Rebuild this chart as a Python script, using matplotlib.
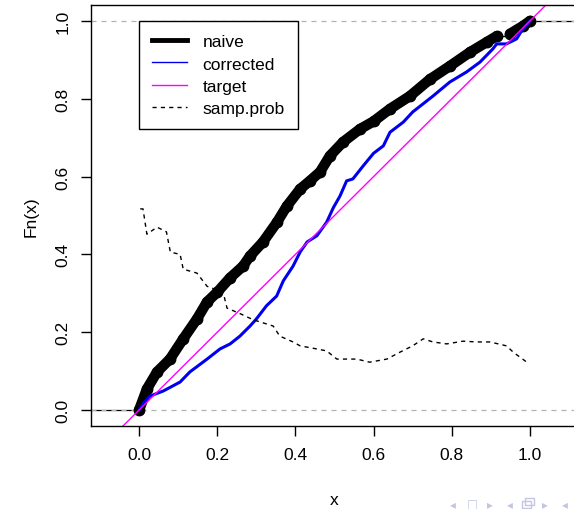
import matplotlib
matplotlib.use("Agg")
import matplotlib.pyplot as plt
from matplotlib.patches import Rectangle

# values
naive_x = [0.0, 0.02, 0.046, 0.079, 0.113, 0.148, 0.174, 0.2, 0.233, 0.266, 0.284,
           0.317, 0.353, 0.378, 0.412, 0.437, 0.463, 0.488, 0.522, 0.565, 0.6,
           0.642, 0.693, 0.744, 0.795, 0.847, 0.89, 0.915, 0.949, 0.982, 1.0]
naive_y = [0.0, 0.054, 0.098, 0.131, 0.183, 0.234, 0.278, 0.303, 0.34, 0.37, 0.396,
           0.432, 0.483, 0.524, 0.568, 0.589, 0.612, 0.653, 0.689, 0.722, 0.742,
           0.774, 0.807, 0.85, 0.884, 0.92, 0.946, 0.961, 0.967, 0.987, 1.0]
naive_gap = 27  # the thick band breaks between this point and the next

corr_x = [0.0, 0.012, 0.028, 0.062, 0.105, 0.13, 0.174, 0.207, 0.233, 0.258, 0.284,
          0.30, 0.326, 0.352, 0.369, 0.394, 0.412, 0.43, 0.455, 0.48, 0.497, 0.514,
          0.531, 0.547, 0.573, 0.6, 0.625, 0.642, 0.676, 0.70, 0.752, 0.795, 0.838,
          0.872, 0.905, 0.915, 0.94, 0.966, 0.982, 1.0]
corr_y = [0.0, 0.018, 0.036, 0.049, 0.072, 0.098, 0.131, 0.157, 0.17, 0.19, 0.216,
          0.234, 0.268, 0.293, 0.332, 0.37, 0.406, 0.432, 0.448, 0.483, 0.52, 0.55,
          0.589, 0.594, 0.627, 0.66, 0.679, 0.714, 0.74, 0.766, 0.807, 0.843, 0.869,
          0.894, 0.928, 0.941, 0.941, 0.954, 0.98, 1.0]

samp_x = [0.003, 0.01, 0.02, 0.046, 0.07, 0.08, 0.105, 0.113, 0.148, 0.174, 0.215,
          0.225, 0.258, 0.292, 0.343, 0.36, 0.394, 0.412, 0.455, 0.48, 0.506, 0.557,
          0.59, 0.634, 0.668, 0.7, 0.727, 0.752, 0.787, 0.829, 0.864, 0.898, 0.94,
          0.957, 0.992]
samp_y = [0.517, 0.517, 0.452, 0.47, 0.458, 0.406, 0.4, 0.362, 0.352, 0.318, 0.303,
          0.262, 0.248, 0.232, 0.216, 0.19, 0.175, 0.165, 0.157, 0.152, 0.131, 0.131,
          0.123, 0.131, 0.149, 0.165, 0.183, 0.175, 0.17, 0.177, 0.175, 0.175, 0.165,
          0.149, 0.123]

x_ticks = [0.0, 0.2, 0.4, 0.6, 0.8, 1.0]
y_ticks = [0.0, 0.2, 0.4, 0.6, 0.8, 1.0]

plt.rcParams['font.family'] = ['Liberation Sans', 'DejaVu Sans']

fig = plt.figure(figsize=(5.74, 5.10), dpi=100)
ax = fig.add_axes([91 / 574, 83 / 510, 487 / 574, 421 / 510])
xlim = (-0.123, 1.123)
ax.set_xlim(*xlim)
ax.set_ylim(-0.041, 1.041)

# reference lines of the ecdf plot
ax.plot([xlim[0], 0.0], [0, 0], color='black', lw=0.9)
ax.plot([1.0, xlim[1]], [1, 1], color='black', lw=0.9)
ax.axhline(0, color='#b3b3b3', lw=0.9, ls=(0, (4, 4)))
ax.axhline(1, color='#b3b3b3', lw=0.9, ls=(0, (4, 4)))

# naive: thick black band of dots, with a thin step across the gap
g = naive_gap
for xs, ys in [(naive_x[:g + 1], naive_y[:g + 1]), (naive_x[g + 1:], naive_y[g + 1:])]:
    ax.plot(xs, ys, color='black', lw=7.5, solid_capstyle='round',
            solid_joinstyle='round')
    ax.plot(xs, ys, 'o', color='black', ms=7.5)
ax.plot(naive_x[g:g + 2], naive_y[g:g + 2], color='black', lw=1,
        drawstyle='steps-post')

ax.plot(corr_x, corr_y, color='#0000ee', lw=2.2)
ax.plot([xlim[0], xlim[1]], [xlim[0], xlim[1]], color='#ff00ff', lw=1)
ax.plot(samp_x, samp_y, color='black', lw=1, ls=(0, (3, 3)))

ax.set_xticks(x_ticks)
ax.set_xticklabels(['%.1f' % v for v in x_ticks])
ax.set_yticks(y_ticks)
ax.set_yticklabels(['%.1f' % v for v in y_ticks], rotation=90, va='center')
ax.tick_params(length=7, width=1, labelsize=12.5, pad=8)
ax.set_xlabel('x', fontsize=12.5, labelpad=22)
ax.set_ylabel('Fn(x)', fontsize=12.5, labelpad=12)
for s in ax.spines.values():
    s.set_linewidth(1)

# legend
handles = [plt.Line2D([], [], color='black', lw=3.5),
           plt.Line2D([], [], color='#0000ee', lw=1),
           plt.Line2D([], [], color='#ff00ff', lw=1),
           plt.Line2D([], [], color='black', lw=1, ls=(0, (3, 3)))]
leg = ax.legend(handles, ['naive', 'corrected', 'target', 'samp.prob'],
                loc='upper left', bbox_to_anchor=(0.0, 1.0), bbox_transform=ax.transData,
                fontsize=12.5, fancybox=False, framealpha=1, edgecolor='black',
                borderaxespad=0, handlelength=2.0, handletextpad=0.9,
                labelspacing=0.42, borderpad=0.75)
leg.get_frame().set_linewidth(1)

# beamer navigation symbols
nav_col = '#c4c4e4'
for px, s in [(453, '◂'), (472, '□'), (490, '▸'), (510, '◂'), (545, '▸'), (565, '◂')]:
    fig.text(px / 574, 5 / 510, s, color=nav_col, fontsize=8.5,
             family=['DejaVu Sans'], va='center', ha='center')
fig.patches.append(Rectangle((522 / 574, 1 / 510), 9 / 574, 7 / 510, fill=False,
                             edgecolor=nav_col, lw=1, transform=fig.transFigure))
fig.patches.append(Rectangle((525 / 574, 4 / 510), 9 / 574, 7 / 510, fill=False,
                             edgecolor=nav_col, lw=1, transform=fig.transFigure))

fig.savefig('out.png', dpi=100)
